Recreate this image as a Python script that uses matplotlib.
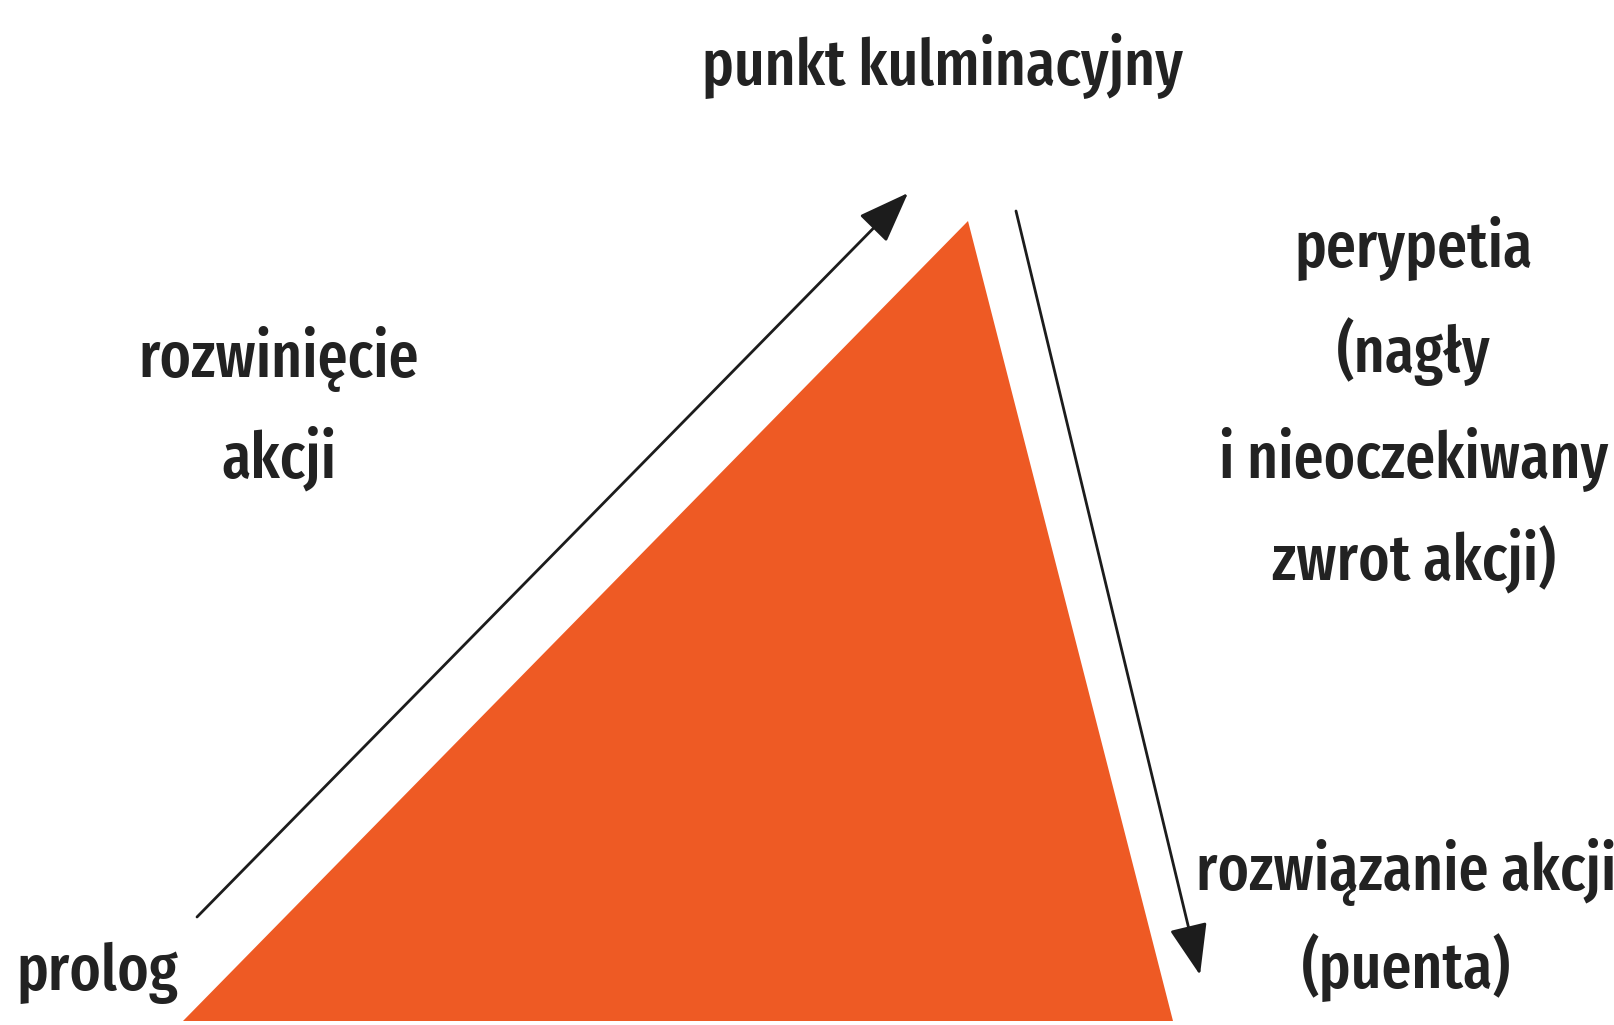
import matplotlib
matplotlib.use("Agg")
import matplotlib.pyplot as plt
from matplotlib.patches import Polygon

# triangle of the plot structure (pixel coords, y grows downward)
triangle_x = [183, 968, 1173]
triangle_y = [1021, 221, 1021]

# rising and falling action arrows: (start, end)
rise_arrow = [(197, 917), (908, 193)]
fall_arrow = [(1016, 211), (1200, 975)]

# one entry per text line: text, anchor x, baseline y
label_lines = [
    ("punkt kulminacyjny", 942, 85),
    ("rozwinięcie", 279, 377),
    ("akcji", 279, 477),
    ("perypetia", 1414, 267),
    ("(nagły", 1414, 372),
    ("i nieoczekiwany", 1414, 477),
    ("zwrot akcji)", 1414, 580),
    ("rozwiązanie akcji", 1406, 890),
    ("(puenta)", 1406, 988),
    ("prolog", 16, 990),
]
# measured widths of a few lines in the reference, used to pick the font size
ref_widths = {"punkt kulminacyjny": 461, "rozwinięcie": 272,
              "i nieoczekiwany": 368, "rozwiązanie akcji": 402, "prolog": 151}

fonts = ["Fira Sans Extra Condensed", "Fira Sans Condensed", "DejaVu Sans"]

fig = plt.figure(figsize=(16.14, 10.25), dpi=100)
ax = fig.add_axes([0, 0, 1, 1])
ax.set_xlim(0, 1614)
ax.set_ylim(1025, 0)
ax.axis("off")

ax.add_patch(Polygon(list(zip(triangle_x, triangle_y)), closed=True,
                     facecolor="#EE5A24", edgecolor="none"))

for (x0, y0), (x1, y1) in [rise_arrow, fall_arrow]:
    ax.annotate("", xy=(x1, y1), xytext=(x0, y0),
                arrowprops=dict(arrowstyle="-|>,head_length=3.2,head_width=1.2",
                                color="#1c1c1c", lw=2.0, shrinkA=0, shrinkB=0))

texts = []
for text, x, y in label_lines:
    ha = "left" if text == "prolog" else "center"
    t = ax.text(x, y, text, ha=ha, va="baseline", fontsize=60, family=fonts,
                fontweight=500, color="#222222")
    texts.append(t)

# scale the font so the line widths match the reference (a bit taller,
# the reference face is narrower than Fira)
renderer = fig.canvas.get_renderer()
ratios = [ref_widths[t.get_text()] / t.get_window_extent(renderer).width
          for t in texts if t.get_text() in ref_widths]
size = 60 * sum(ratios) / len(ratios) * 1.05
for t in texts:
    t.set_fontsize(size)

fig.savefig("out.png", dpi=100, facecolor="white")
